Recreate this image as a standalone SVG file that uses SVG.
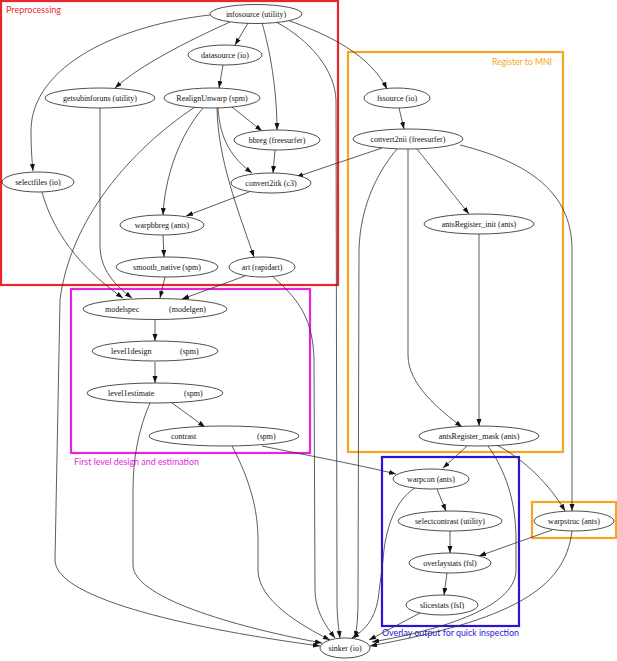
<svg xmlns="http://www.w3.org/2000/svg" width="617" height="661" viewBox="0 0 617 661">
<style>
.n ellipse{fill:#fff;stroke:#222;stroke-width:0.8}
.n text{font-family:"Liberation Serif","Times New Roman",serif;font-size:8px;fill:#111;text-anchor:middle}
.n text.s{text-anchor:start}
.e path{fill:none;stroke:#333;stroke-width:0.8;marker-end:url(#a)}
.c rect{fill:none;stroke-width:2.2}
.c text{font-family:Lato,"Liberation Sans",sans-serif;font-size:10px}
</style>
<defs>
<marker id="a" markerUnits="userSpaceOnUse" markerWidth="8" markerHeight="6" refX="7" refY="2.5" orient="auto">
<path d="M0,0 L7,2.5 L0,5 z" fill="#111"/>
</marker>
</defs>
<rect width="617" height="661" fill="#fff"/>
<g id="clusters" class="c">
<g id="cluster_preprocessing"><rect x="1" y="1" width="337" height="284" stroke="#e8262b"/><text x="6" y="13" fill="#e8262b" textLength="55" lengthAdjust="spacingAndGlyphs">Preprocessing</text></g>
<g id="cluster_register"><rect x="348" y="52" width="215" height="400" stroke="#f5a623"/><text x="492" y="65" fill="#f5a623" textLength="60" lengthAdjust="spacingAndGlyphs">Register to MNI</text></g>
<g id="cluster_firstlevel"><rect x="71" y="289" width="239" height="164" stroke="#e424df"/><text x="74" y="465" fill="#e424df" textLength="125" lengthAdjust="spacingAndGlyphs">First level design and estimation</text></g>
<g id="cluster_overlay"><rect x="382" y="457" width="137" height="169" stroke="#2a14d8"/><text x="382" y="636" fill="#2a14d8" textLength="137" lengthAdjust="spacingAndGlyphs">Overlay output for quick inspection</text></g>
<g id="cluster_warpstruc"><rect x="532" y="502" width="84" height="36" stroke="#f5a623"/></g>
</g>
<g id="edges" class="e">
<path d="M248,23 L235,45"/>
<path d="M230,22 C190,40 140,65 115,88"/>
<path d="M210,15 C120,25 32,65 31,130 C31,150 32,160 33,171"/>
<path d="M262,23 C270,50 277,90 277,130"/>
<path d="M276,22 C310,40 335,70 336,100 L337,600 C337,620 339,630 340,638"/>
<path d="M287,20 C330,35 370,55 387,89"/>
<path d="M223,65 L219,88"/>
<path d="M100,108 L100,245 C100,270 115,285 132,298"/>
<path d="M232,107 L262,131"/>
<path d="M218,108 C220,140 232,158 252,173"/>
<path d="M203,108 C180,135 165,175 163,215"/>
<path d="M217,108 C218,160 238,210 254,257"/>
<path d="M195,107 C130,150 70,220 60,300 L55,560 C55,600 200,630 320,646"/>
<path d="M42,192 C55,240 90,275 123,298"/>
<path d="M275,150 L273,173"/>
<path d="M249,192 L186,216"/>
<path d="M163,235 L164,257"/>
<path d="M165,277 L160,298"/>
<path d="M245,276 L182,299"/>
<path d="M272,276 C300,300 313,320 314,360 L315,590 C315,610 325,625 335,638"/>
<path d="M155,320 L155,341"/>
<path d="M155,362 L155,383"/>
<path d="M172,403 L205,427"/>
<path d="M150,403 C138,430 133,460 133,490 L133,565 C133,600 250,630 322,643"/>
<path d="M232,446 C250,480 258,510 258,540 L258,570 C258,600 300,625 330,640"/>
<path d="M262,446 C310,456 360,465 396,474"/>
<path d="M399,108 L404,129"/>
<path d="M417,149 L469,214"/>
<path d="M408,149 L408,355 C408,385 440,410 462,427"/>
<path d="M397,149 C375,175 360,210 359,250 L358,600 C358,615 357,628 355,638"/>
<path d="M460,145 C540,165 572,200 572,250 L572,511"/>
<path d="M382,148 L296,177"/>
<path d="M479,234 L479,426"/>
<path d="M467,446 L443,468"/>
<path d="M488,446 C505,470 516,500 516,540 L516,570 C516,610 430,632 372,642"/>
<path d="M497,445 C525,460 550,485 565,511"/>
<path d="M437,489 L446,511"/>
<path d="M415,488 C395,500 385,530 383,560 L378,600 C374,620 365,630 352,638"/>
<path d="M450,531 L450,553"/>
<path d="M447,573 L444,595"/>
<path d="M420,613 L369,640"/>
<path d="M552,530 L479,556"/>
<path d="M572,531 C565,590 510,620 370,646"/>
</g>
<g id="infosource" class="n"><ellipse cx="256" cy="14" rx="46" ry="9.5"/><text x="256" y="17">infosource (utility)</text></g>
<g id="datasource" class="n"><ellipse cx="225" cy="55" rx="37" ry="10"/><text x="225" y="58">datasource (io)</text></g>
<g id="getsubinforuns" class="n"><ellipse cx="100" cy="98" rx="55" ry="10"/><text x="100" y="101">getsubinforuns (utility)</text></g>
<g id="realignunwarp" class="n"><ellipse cx="212" cy="98" rx="48" ry="10"/><text x="212" y="101">RealignUnwarp (spm)</text></g>
<g id="bbreg" class="n"><ellipse cx="277" cy="140" rx="43" ry="10"/><text x="277" y="143">bbreg (freesurfer)</text></g>
<g id="selectfiles" class="n"><ellipse cx="38" cy="182" rx="36" ry="10"/><text x="38" y="185">selectfiles (io)</text></g>
<g id="convert2itk" class="n"><ellipse cx="271" cy="183" rx="40" ry="10"/><text x="271" y="186">convert2itk (c3)</text></g>
<g id="warpbbreg" class="n"><ellipse cx="162" cy="225" rx="42" ry="10"/><text x="162" y="228">warpbbreg (ants)</text></g>
<g id="smooth_native" class="n"><ellipse cx="167" cy="267" rx="51" ry="10"/><text x="167" y="270">smooth_native (spm)</text></g>
<g id="art" class="n"><ellipse cx="262" cy="267" rx="33" ry="10"/><text x="262" y="270">art (rapidart)</text></g>
<g id="fssource" class="n"><ellipse cx="397" cy="98" rx="33" ry="10"/><text x="397" y="101">fssource (io)</text></g>
<g id="convert2nii" class="n"><ellipse cx="408" cy="139" rx="55" ry="10"/><text x="408" y="142">convert2nii (freesurfer)</text></g>
<g id="antsRegister_init" class="n"><ellipse cx="479" cy="224" rx="55" ry="10"/><text x="479" y="227">antsRegister_init (ants)</text></g>
<g id="antsRegister_mask" class="n"><ellipse cx="479" cy="436" rx="60" ry="10"/><text x="479" y="439">antsRegister_mask (ants)</text></g>
<g id="modelspec" class="n"><ellipse cx="155" cy="309" rx="72" ry="10.5"/><text class="s" y="312"><tspan x="105">modelspec</tspan><tspan x="169">(modelgen)</tspan></text></g>
<g id="level1design" class="n"><ellipse cx="155" cy="351" rx="63" ry="10"/><text class="s" y="354"><tspan x="111">level1design</tspan><tspan x="180">(spm)</tspan></text></g>
<g id="level1estimate" class="n"><ellipse cx="155" cy="393" rx="68" ry="10"/><text class="s" y="396"><tspan x="108">level1estimate</tspan><tspan x="184">(spm)</tspan></text></g>
<g id="contrast" class="n"><ellipse cx="224" cy="436" rx="75" ry="10"/><text class="s" y="439"><tspan x="171">contrast</tspan><tspan x="257">(spm)</tspan></text></g>
<g id="warpcon" class="n"><ellipse cx="431" cy="479" rx="38" ry="10"/><text x="431" y="482">warpcon (ants)</text></g>
<g id="selectcontrast" class="n"><ellipse cx="450" cy="521" rx="52" ry="10"/><text x="450" y="524">selectcontrast (utility)</text></g>
<g id="overlaystats" class="n"><ellipse cx="450" cy="563" rx="41" ry="10"/><text x="450" y="566">overlaystats (fsl)</text></g>
<g id="slicestats" class="n"><ellipse cx="442" cy="605" rx="36" ry="10"/><text x="442" y="608">slicestats (fsl)</text></g>
<g id="warpstruc" class="n"><ellipse cx="574" cy="521" rx="40" ry="10"/><text x="574" y="524">warpstruc (ants)</text></g>
<g id="sinker" class="n"><ellipse cx="345" cy="648" rx="25" ry="10"/><text x="345" y="651">sinker (io)</text></g>
</svg>
